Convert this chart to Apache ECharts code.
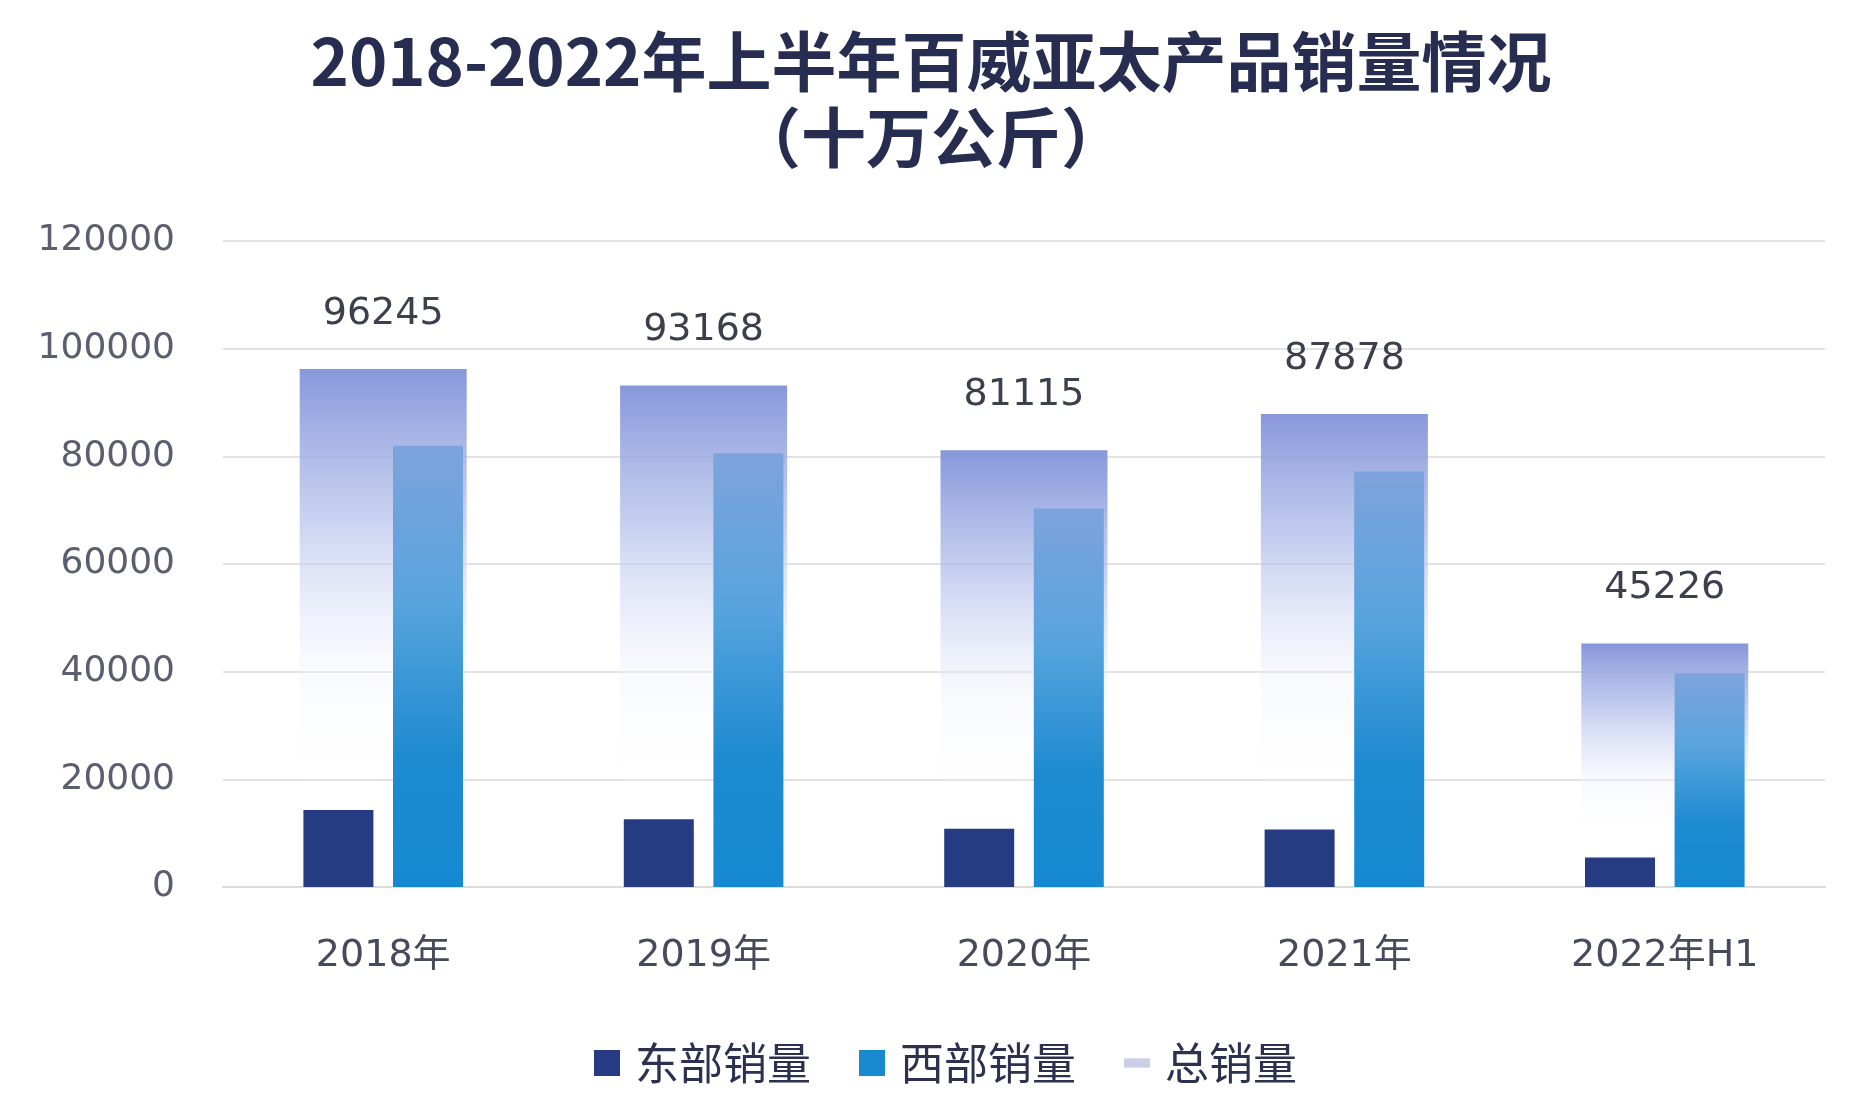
<!DOCTYPE html>
<html>
<head>
<meta charset="utf-8">
<script src="https://cdn.jsdelivr.net/npm/echarts@6/dist/echarts.min.js"></script>
<style>
  html, body { margin: 0; padding: 0; background: #fff; }
  #main { width: 1862px; height: 1109px; }
</style>
</head>
<body>
<div id="main"></div>
<script>
// data
const categories = ['2018年', '2019年', '2020年', '2021年', '2022年H1'];
const eastSales = [14300, 12600, 10800, 10700, 5500];
const westSales = [81945, 80568, 70315, 77178, 39726];
const totalSales = [96245, 93168, 81115, 87878, 45226];
const yTicks = { min: 0, max: 120000, interval: 20000 };

const numFont = "'DejaVu Sans', 'Noto Sans CJK SC', sans-serif";

const chart = echarts.init(document.getElementById('main'));
const option = {
    animation: false,
    backgroundColor: '#ffffff',
    title: {
        text: '2018-2022年上半年百威亚太产品销量情况\n（十万公斤）',
        left: 'center',
        top: 18,
        textStyle: {
            fontFamily: "'Noto Sans CJK SC', sans-serif",
            fontSize: 65,
            fontWeight: 'bold',
            color: '#272d50',
            lineHeight: 76
        }
    },
    legend: {
        left: 589,
        top: 1036,
        itemWidth: 26,
        itemHeight: 26,
        itemGap: 48,
        textStyle: {
            fontFamily: "'Noto Sans CJK SC', sans-serif",
            fontSize: 44,
            color: '#2c3150',
            padding: [0, 0, 0, 10]
        },
        data: [
            { name: '东部销量', icon: 'rect' },
            { name: '西部销量', icon: 'rect', itemStyle: { color: '#1a8ad0' } },
            { name: '总销量', icon: 'path://M0,0 L14,0 L14,5 L0,5 Z', itemStyle: { color: '#c9cfe6' } }
        ]
    },
    grid: {
        left: 223,
        right: 37,
        top: 241,
        bottom: 222
    },
    xAxis: [
        {
            type: 'category',
            data: categories,
            axisLine: { lineStyle: { color: '#dcdcdc', width: 2 } },
            axisTick: { show: false },
            axisLabel: {
                margin: 50,
                fontFamily: numFont,
                fontSize: 38,
                color: '#464a5a'
            }
        },
        {
            type: 'category',
            data: categories,
            show: false
        }
    ],
    yAxis: {
        type: 'value',
        min: yTicks.min,
        max: yTicks.max,
        interval: yTicks.interval,
        axisLine: { show: false },
        axisTick: { show: false },
        splitLine: { lineStyle: { color: '#e2e2e2', width: 2 } },
        axisLabel: {
            margin: 48,
            fontFamily: numFont,
            fontSize: 36,
            color: '#5a5e6e',
            formatter: function (v) { return String(v); }
        }
    },
    series: [
        {
            name: '总销量',
            type: 'bar',
            xAxisIndex: 0,
            barWidth: 167,
            data: totalSales,
            itemStyle: {
                color: new echarts.graphic.LinearGradient(0, 0, 0, 1, [
                    { offset: 0, color: 'rgba(128,146,217,0.95)' },
                    { offset: 0.28, color: 'rgba(180,192,235,0.75)' },
                    { offset: 0.55, color: 'rgba(238,241,251,0.45)' },
                    { offset: 0.85, color: 'rgba(255,255,255,0)' },
                    { offset: 1, color: 'rgba(255,255,255,0)' }
                ])
            },
            label: {
                show: true,
                position: 'top',
                distance: 36,
                fontFamily: numFont,
                fontSize: 38,
                color: '#3c3f4c'
            }
        },
        {
            name: '东部销量',
            type: 'bar',
            xAxisIndex: 1,
            barWidth: 70,
            barGap: '28%',
            data: eastSales,
            itemStyle: { color: '#253c82' }
        },
        {
            name: '西部销量',
            type: 'bar',
            xAxisIndex: 1,
            barWidth: 70,
            data: westSales,
            itemStyle: {
                color: new echarts.graphic.LinearGradient(0, 0, 0, 1, [
                    { offset: 0, color: '#7ea3dc' },
                    { offset: 0.35, color: '#58a4de' },
                    { offset: 0.7, color: '#1e8bd0' },
                    { offset: 1, color: '#1589d1' }
                ])
            }
        }
    ]
};
chart.setOption(option);
</script>
</body>
</html>
